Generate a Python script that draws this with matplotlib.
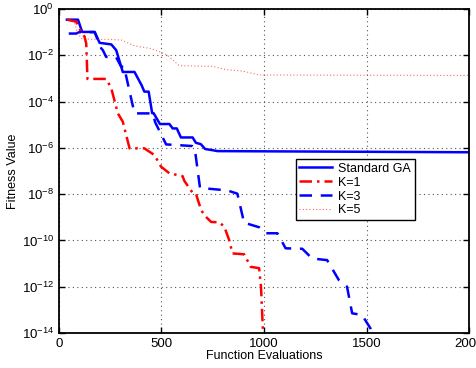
import numpy as np
import matplotlib
matplotlib.use("Agg")
import matplotlib.pyplot as plt
from matplotlib.ticker import FixedLocator, NullLocator, LogFormatterSciNotation

plt.rcParams['font.family'] = ['Liberation Sans', 'DejaVu Sans']
plt.rcParams['mathtext.fontset'] = 'custom'
plt.rcParams['mathtext.rm'] = 'Liberation Sans'
plt.rcParams['mathtext.it'] = 'Liberation Sans'

# Standard GA
ga_x = [40, 94, 114, 175, 199, 256, 280, 312, 369, 404, 417, 438, 455, 462, 493, 539,
        555, 575, 595, 652, 668, 692, 713, 749, 773, 2000]
ga_log = [-0.46, -0.46, -0.99, -0.99, -1.46, -1.53, -1.78, -2.72, -2.72, -3.3, -3.57, -3.57,
          -4.5, -4.5, -4.97, -4.97, -5.16, -5.16, -5.55, -5.55, -5.78, -5.84, -6.05, -6.1,
          -6.14, -6.19]

# K=1
k1_x = [40, 86, 102, 126, 134, 140, 232, 256, 288, 312, 345, 417, 466, 498, 539, 603, 612,
        652, 668, 677, 693, 709, 742, 782, 806, 830, 846, 903, 935, 976, 985, 1000]
k1_log = [-0.46, -0.55, -0.87, -1.2, -1.5, -3.02, -3.02, -3.43, -4.51, -4.87, -6.02, -6.02,
          -6.31, -6.81, -7.1, -7.22, -7.43, -7.94, -7.97, -8.23, -8.67, -8.91, -9.2, -9.22,
          -9.4, -9.98, -10.56, -10.6, -11.14, -11.2, -12.0, -15.0]

# K=3
k3_x = [49, 85, 100, 175, 207, 215, 231, 280, 304, 318, 369, 458, 470, 523, 650, 662, 688,
        822, 870, 903, 920, 976, 1008, 1065, 1105, 1186, 1234, 1307, 1364, 1404, 1429, 1477,
        1518, 1560]
k3_log = [-1.06, -1.06, -1.0, -1.0, -1.70, -1.78, -2.07, -2.09, -2.49, -2.49, -4.51, -4.51,
          -4.9, -5.85, -5.92, -6.0, -7.73, -7.84, -7.98, -9.25, -9.28, -9.43, -9.69, -9.69,
          -10.34, -10.36, -10.78, -10.85, -11.71, -12.0, -13.15, -13.22, -13.8, -14.8]

# K=5
k5_x = [40, 75, 88, 110, 160, 240, 305, 369, 450, 490, 530, 587, 749, 814, 895, 976, 2000]
k5_log = [-0.46, -0.5, -0.95, -1.28, -1.31, -1.31, -1.34, -1.59, -1.71, -1.84, -2.0, -2.45,
          -2.48, -2.62, -2.68, -2.85, -2.87]

ytick_exps = [0, -2, -4, -6, -8, -10, -12, -14]
xticks = [0, 500, 1000, 1500, 2000]

fig = plt.figure(figsize=(4.77, 3.68), dpi=100)
ax = fig.add_axes([0.1231, 0.0951, 0.861, 0.8804])

ax.plot(ga_x, 10.0 ** np.array(ga_log), color='#0000ff', lw=1.8, ls='-', label='Standard GA')
ax.plot(k1_x, 10.0 ** np.array(k1_log), color='#ff0000', lw=1.8, ls=(0, (5, 2, 1, 2)), label='K=1')
ax.plot(k3_x, 10.0 ** np.array(k3_log), color='#0000ff', lw=1.8, ls=(0, (5, 3.5)), label='K=3')
ax.plot(k5_x, 10.0 ** np.array(k5_log), color='#ff0000', lw=0.8, ls=(0, (1, 2)), alpha=0.6, label='K=5')

ax.set_yscale('log')
ax.set_xlim(0, 2000)
ax.set_ylim(1e-14, 1e0)
ax.yaxis.set_major_locator(FixedLocator([10.0 ** e for e in ytick_exps]))
ax.yaxis.set_minor_locator(NullLocator())
ax.yaxis.set_major_formatter(LogFormatterSciNotation())
ax.set_xticks(xticks)

ax.grid(True, which='major', ls=(0, (1, 3)), color='#555555', lw=0.8)
ax.tick_params(direction='in', length=4, width=1, top=True, right=True, labelsize=9.5)
for sp in ax.spines.values():
    sp.set_linewidth(1.3)

ax.set_xlabel('Function Evaluations', fontsize=9, labelpad=0)
ax.set_ylabel('Fitness Value', fontsize=9, labelpad=2)

leg = ax.legend(loc='upper left', bbox_to_anchor=(0.577, 0.537), fontsize=9, frameon=True,
                fancybox=False, edgecolor='black', framealpha=1, borderpad=0.3,
                labelspacing=0.15, handlelength=2.6, handletextpad=0.5, borderaxespad=0)
leg.get_frame().set_linewidth(1.0)

fig.savefig('out.png', dpi=100)
